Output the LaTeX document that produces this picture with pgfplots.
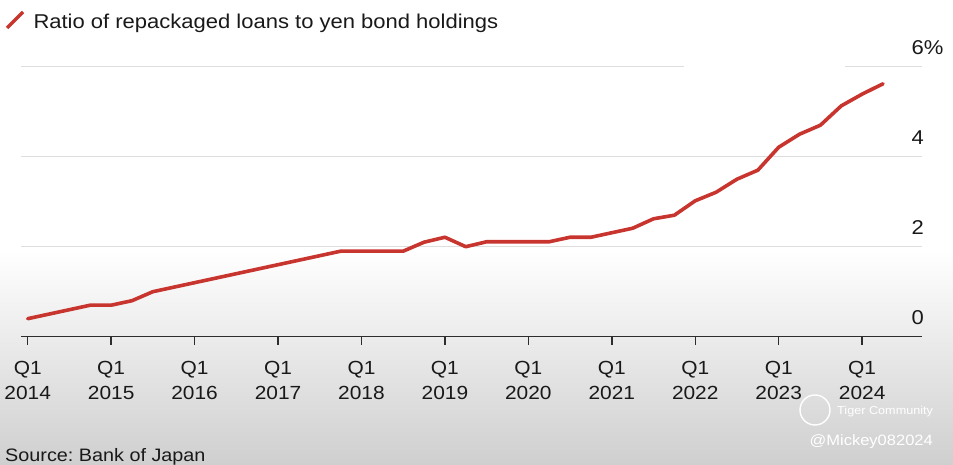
\documentclass[border=0pt]{standalone}
\usepackage{fontspec}
\setmainfont[FakeStretch=1.1]{Liberation Sans}
\usepackage{pgfplots}
\pgfplotsset{compat=1.18}
\frenchspacing
\definecolor{linered}{RGB}{200,52,46}
\definecolor{gridgray}{RGB}{222,222,222}
\definecolor{axisdark}{RGB}{45,45,45}
\definecolor{bggray}{RGB}{207,207,207}
\begin{document}
\begin{tikzpicture}[x=1pt,y=1pt]
\useasboundingbox (0,0) rectangle (953,465);
\fill[white] (0,0) rectangle (953,465);
\shade[top color=white,bottom color=bggray] (0,0) rectangle (953,215);
\begin{axis}[
  at={(21pt,128.3pt)}, anchor=south west,
  scale only axis, width=901pt, height=270pt,
  xmin=-0.321, xmax=42.87, ymin=0, ymax=6,
  axis x line*=bottom, axis y line*=right,
  x axis line style={-, draw=axisdark, line width=1.6pt},
  y axis line style={draw=none},
  tick align=outside, major tick length=8pt,
  xtick={0,4,...,40},
  xticklabels={{Q1\\2014},{Q1\\2015},{Q1\\2016},{Q1\\2017},{Q1\\2018},{Q1\\2019},{Q1\\2020},{Q1\\2021},{Q1\\2022},{Q1\\2023},{Q1\\2024}},
  xtick style={draw=axisdark, line width=1.4pt},
  xticklabel style={font=\fontsize{19}{25.7}\selectfont, align=center, anchor=north, inner sep=0pt, yshift=-16pt, text=black!90},
  ytick={0,2,4,6}, yticklabels={0,2,4,6\rlap{\%}},
  ytick style={draw=none},
  yticklabel style={font=\fontsize{20}{24}\selectfont, anchor=south east, inner sep=0pt, xshift=-6pt, yshift=12pt, text=black!90},
  ymajorgrids, grid style={draw=gridgray, line width=1.3pt},
]
\addplot[linered, line width=3.6pt, line join=round, line cap=round] coordinates {
(0,0.40) (1,0.50) (2,0.60) (3,0.70) (4,0.70) (5,0.80) (6,1.00) (7,1.10)
(8,1.20) (9,1.30) (10,1.40) (11,1.50) (12,1.60) (13,1.70) (14,1.80) (15,1.90)
(16,1.90) (17,1.90) (18,1.90) (19,2.10) (20,2.21) (21,2.00) (22,2.11) (23,2.11)
(24,2.11) (25,2.11) (26,2.21) (27,2.21) (28,2.31) (29,2.41) (30,2.62) (31,2.70)
(32,3.02) (33,3.21) (34,3.50) (35,3.70) (36,4.21) (37,4.50) (38,4.70) (39,5.13)
(40,5.39) (41,5.62)
};
\end{axis}
\fill[white] (684,395) rectangle (845,402);
\draw[linered, line width=3.4pt] (7,437) -- (23,453);
\node[anchor=base west, inner sep=0pt, font=\fontsize{20}{24}\selectfont, text=black!90] at (33.3,436.7) {Ratio of repackaged loans to yen bond holdings};
\node[anchor=base west, inner sep=0pt, font=\fontsize{18}{22}\selectfont, text=black!90] at (5,3.5) {Source: Bank of Japan};
\draw[white, line width=1.4pt] (815,55) circle (15);
\node[anchor=base west, inner sep=0pt, font=\fontsize{11.5}{14}\selectfont, text=white] at (837,50) {Tiger Community};
\node[anchor=base east, inner sep=0pt, font=\fontsize{15}{18}\selectfont, text=white] at (933,19) {@Mickey082024};
\end{tikzpicture}
\end{document}
